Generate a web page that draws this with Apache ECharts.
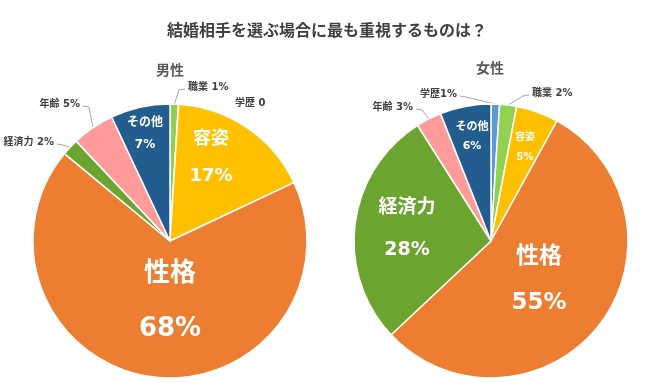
<!DOCTYPE html>
<html>
<head>
<meta charset="utf-8">
<script src="https://cdn.jsdelivr.net/npm/echarts@6/dist/echarts.min.js"></script>
<style>
html,body{margin:0;padding:0;background:#fff;}
#chart{width:660px;height:383px;}
</style>
</head>
<body>
<div id="chart"></div>
<script>
// ---- data ----
const mainTitle = '結婚相手を選ぶ場合に最も重視するものは？';
const groupTitles = ['男性', '女性'];
const maleCategories = ['職業', '学歴', '容姿', '性格', '経済力', '年齢', 'その他'];
const maleValues = [1, 0, 17, 68, 2, 5, 7];
const femaleCategories = ['学歴', '職業', '容姿', '性格', '経済力', '年齢', 'その他'];
const femaleValues = [1, 2, 5, 55, 28, 3, 6];

// ---- styles ----
const FONT = "'DejaVu Sans', 'Noto Sans CJK JP', sans-serif";
const colorMap = {
  '職業': '#92D050', '学歴': '#5B9BD5', '容姿': '#FFC000', '性格': '#ED7D31',
  '経済力': '#6BA52F', '年齢': '#FF9B9B', 'その他': '#235C8F'
};
const pieCenters = [[170, 241], [491, 241]];
const pieRadius = 137;
const insideCfg = [
  { '性格': {fs: 26, lh: 55, pos: [170, 302]}, '容姿': {fs: 18, lh: 37, pos: [211, 158]}, 'その他': {fs: 12, lh: 22, pos: [145, 134]} },
  { '性格': {fs: 23, lh: 46, pos: [539, 280]}, '経済力': {fs: 19, lh: 42, pos: [407, 229]}, 'その他': {fs: 11, lh: 19, pos: [472, 137]}, '容姿': {fs: 10, lh: 20, pos: [525, 147]} }
];
const outsideCfg = [
  { '職業': {pos: [188, 87], align: 'left'}, '学歴': {pos: [235, 103], align: 'left', line: false}, '年齢': {pos: [80, 104], align: 'right'}, '経済力': {pos: [54, 142], align: 'right'} },
  { '学歴': {pos: [457, 94], align: 'right', sep: ''}, '職業': {pos: [532, 93], align: 'left'}, '年齢': {pos: [413, 107], align: 'right'} }
];

function buildSeries(idx, cats, vals) {
  const data = cats.map((c, i) => {
    const item = { name: c, value: vals[i], itemStyle: { color: colorMap[c] } };
    const ins = insideCfg[idx][c];
    if (ins) {
      const st = { fontSize: ins.fs, lineHeight: ins.lh, fontWeight: 'bold', color: '#fff', fontFamily: FONT };
      item.label = {
        position: 'inside',
        formatter: (p) => '{n|' + p.name + '}\n{v|' + p.value + '%}',
        rich: { n: st, v: st }
      };
      item.labelLine = { show: false };
    } else {
      const o = outsideCfg[idx][c];
      const sep = o.sep !== undefined ? o.sep : ' ';
      item.label = {
        position: 'outside',
        formatter: c + sep + vals[i] + (vals[i] === 0 ? '' : '%'),
        fontSize: 10, fontWeight: 'bold', color: '#404040', fontFamily: FONT
      };
      item.labelLine = { show: o.line !== false, length: 5, length2: 5, lineStyle: { color: '#A6A6A6', width: 1 } };
    }
    return item;
  });
  return {
    type: 'pie',
    center: pieCenters[idx],
    radius: pieRadius,
    startAngle: 90,
    clockwise: true,
    avoidLabelOverlap: false,
    animation: false,
    silent: true,
    itemStyle: { borderColor: '#fff', borderWidth: 1.5 },
    data: data,
    labelLayout: function (params) {
      const c = cats[params.dataIndex];
      const ins = insideCfg[idx][c];
      if (ins) {
        return { x: ins.pos[0], y: ins.pos[1], align: 'center', verticalAlign: 'middle' };
      }
      const o = outsideCfg[idx][c];
      const res = { x: o.pos[0], y: o.pos[1], align: o.align, verticalAlign: 'middle' };
      if (o.line !== false && params.labelLinePoints) {
        const start = params.labelLinePoints[0];
        const dir = o.align === 'left' ? -1 : 1;
        const end = [o.pos[0] + dir * 3, o.pos[1] + 2];
        const elbow = [end[0] + dir * 6, end[1] + 1];
        res.labelLinePoints = [start, elbow, end];
      }
      return res;
    }
  };
}

const chart = echarts.init(document.getElementById('chart'), null, { renderer: 'canvas' });
chart.setOption({
  backgroundColor: '#fff',
  animation: false,
  title: [
    { text: mainTitle, left: 327, top: 24, textAlign: 'center', padding: 0,
      textStyle: { fontSize: 16, fontWeight: 'bold', color: '#404040', fontFamily: FONT } },
    { text: groupTitles[0], left: 170, top: 64, textAlign: 'center', padding: 0,
      textStyle: { fontSize: 14, fontWeight: 'bold', color: '#595959', fontFamily: FONT } },
    { text: groupTitles[1], left: 490, top: 62, textAlign: 'center', padding: 0,
      textStyle: { fontSize: 14, fontWeight: 'bold', color: '#595959', fontFamily: FONT } }
  ],
  series: [
    buildSeries(0, maleCategories, maleValues),
    buildSeries(1, femaleCategories, femaleValues)
  ]
});
</script>
</body>
</html>
